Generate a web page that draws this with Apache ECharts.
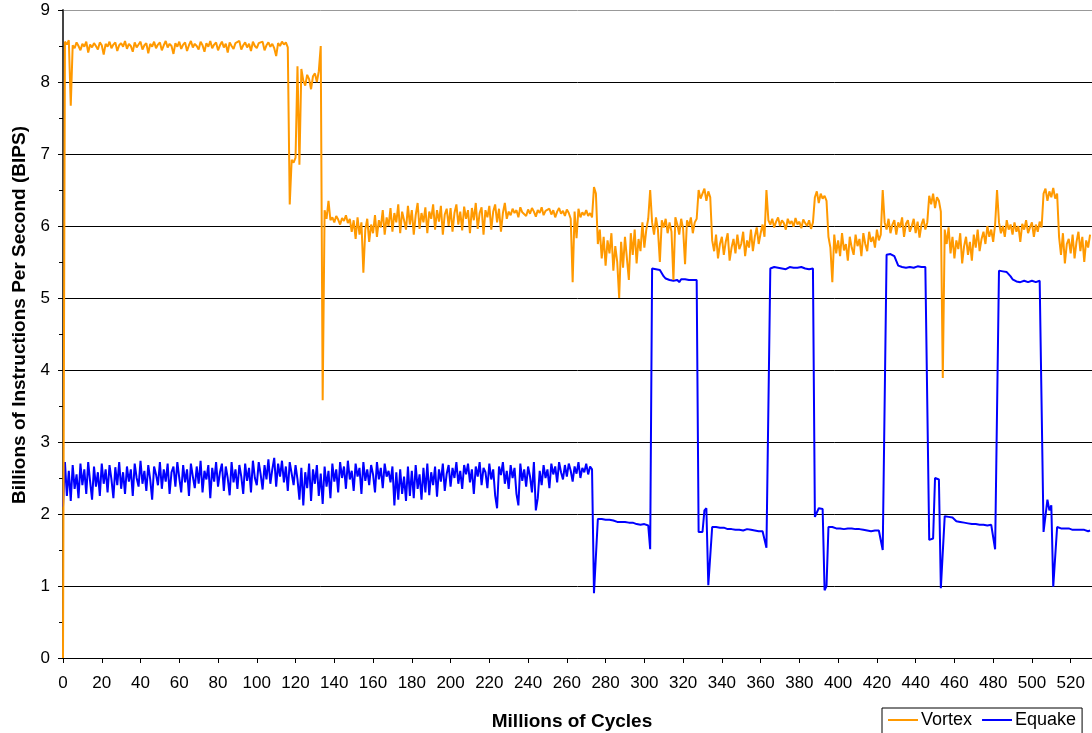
<!DOCTYPE html>
<html>
<head>
<meta charset="utf-8">
<script src="https://cdn.jsdelivr.net/npm/echarts@6/dist/echarts.min.js"></script>
<style>
  html, body { margin: 0; padding: 0; background: #fff; }
  #chart { width: 1092px; height: 733px; }
</style>
</head>
<body>
<div id="chart"></div>
<script>
// one sample per million cycles, starting at 0
const STEP = 1;

const seriesNames = ['Vortex', 'Equake'];

// Vortex BIPS
const vortex = [
  0, 8.56, 8.52, 8.58, 7.67, 8.51, 8.47, 8.55, 8.50, 8.44,
  8.53, 8.49, 8.56, 8.41, 8.52, 8.48, 8.54, 8.50, 8.45, 8.55,
  8.51, 8.38, 8.53, 8.49, 8.56, 8.47, 8.52, 8.55, 8.43, 8.51,
  8.54, 8.49, 8.57, 8.46, 8.53, 8.50, 8.42, 8.55, 8.48, 8.52,
  8.56, 8.45, 8.51, 8.54, 8.40, 8.53, 8.49, 8.56, 8.47, 8.52,
  8.55, 8.44, 8.51, 8.57, 8.48, 8.53, 8.50, 8.39, 8.54, 8.49,
  8.56, 8.46, 8.52, 8.55, 8.43, 8.51, 8.57, 8.48, 8.53, 8.50,
  8.45, 8.56, 8.51, 8.42, 8.54, 8.49, 8.57, 8.47, 8.52, 8.55,
  8.44, 8.51, 8.56, 8.48, 8.53, 8.41, 8.55, 8.50, 8.46, 8.54,
  8.52, 8.57, 8.45, 8.51, 8.55, 8.48, 8.53, 8.43, 8.56, 8.50,
  8.47, 8.54, 8.52, 8.56, 8.44, 8.51, 8.55, 8.49, 8.53, 8.47,
  8.36, 8.54, 8.50, 8.56, 8.52, 8.55, 8.48, 6.30, 6.92, 6.88,
  6.95, 8.22, 6.85, 8.18, 8.02, 7.95, 8.10, 8.04, 7.90, 8.08,
  8.12, 8.00, 8.15, 8.50, 3.58, 6.22, 6.10, 6.35, 6.08, 6.12,
  6.05, 6.14, 6.09, 6.02, 6.11, 6.07, 6.15, 6.04, 6.10, 5.92,
  6.08, 5.82, 6.12, 5.88, 6.05, 5.35, 5.95, 6.10, 5.78, 6.02,
  5.90, 6.15, 5.85, 6.08, 5.98, 6.22, 5.88, 6.12, 6.00, 6.25,
  5.92, 6.18, 6.05, 6.30, 5.90, 6.20, 6.08, 5.95, 6.28, 6.02,
  6.22, 5.88, 6.15, 6.32, 5.96, 6.18, 6.05, 6.26, 5.90, 6.20,
  6.10, 6.30, 5.95, 6.22, 6.06, 6.28, 5.88, 6.16, 6.24, 6.00,
  6.25, 5.92, 6.18, 6.30, 6.02, 6.20, 5.94, 6.27, 6.10, 6.22,
  5.90, 6.25, 6.08, 6.32, 5.96, 6.18, 6.26, 5.88, 6.22, 6.12,
  6.28, 5.95, 6.20, 6.30, 6.05, 6.24, 5.92, 6.18, 6.32, 6.10,
  6.20, 6.15, 6.24, 6.18, 6.22, 6.12, 6.26, 6.19, 6.21, 6.14,
  6.23, 6.17, 6.25, 6.20, 6.13, 6.22, 6.18, 6.26, 6.15, 6.21,
  6.19, 6.24, 6.16, 6.22, 6.12, 6.20, 6.25, 6.17, 6.21, 6.14,
  6.23, 6.18, 6.10, 5.22, 6.20, 5.83, 6.24, 6.12, 6.19, 6.15,
  6.22, 6.14, 6.18, 6.12, 6.54, 6.45, 5.75, 5.95, 5.55, 5.85,
  5.45, 5.80, 5.62, 5.90, 5.38, 5.72, 5.50, 5.00, 5.78, 5.42,
  5.85, 5.55, 5.25, 5.90, 5.60, 5.95, 5.48, 5.82, 5.65, 6.05,
  5.70, 5.95, 6.10, 6.50, 6.05, 5.88, 6.12, 5.95, 5.50, 6.08,
  5.98, 6.10, 5.90, 6.05, 5.92, 5.25, 6.12, 6.02, 5.88, 6.10,
  5.96, 5.47, 6.08, 6.00, 6.12, 5.90, 6.05, 6.10, 6.50, 6.38,
  6.45, 6.52, 6.35, 6.48, 6.40, 5.80, 5.65, 5.88, 5.55, 5.75,
  5.85, 5.60, 5.78, 5.90, 5.52, 5.70, 5.82, 5.62, 5.88, 5.68,
  5.75, 5.92, 5.58, 5.80, 5.70, 5.95, 5.65, 5.85, 5.98, 5.75,
  5.90, 6.02, 5.85, 6.50, 6.08, 6.02, 6.10, 5.98, 6.06, 6.12,
  6.00, 6.08, 6.04, 5.95, 6.10, 6.03, 6.07, 5.99, 6.11, 6.02,
  6.06, 5.97, 6.09, 6.04, 6.00, 6.08, 5.96, 6.05, 6.40, 6.48,
  6.32, 6.45, 6.38, 6.42, 6.35, 5.85, 5.70, 5.22, 5.88, 5.62,
  5.80, 5.58, 5.90, 5.66, 5.75, 5.52, 5.85, 5.70, 5.60, 5.88,
  5.72, 5.82, 5.58, 5.90, 5.75, 5.65, 5.92, 5.78, 5.85, 5.70,
  5.95, 5.80, 5.88, 6.50, 6.05, 5.95, 6.10, 5.90, 6.02, 6.08,
  5.88, 6.05, 5.98, 6.12, 5.85, 6.03, 6.08, 5.92, 6.00, 6.10,
  5.90, 6.06, 5.84, 6.02, 6.10, 5.95, 6.05, 6.42, 6.30, 6.45,
  6.25, 6.40, 6.35, 6.20, 3.89, 5.95, 5.75, 5.98, 5.62, 5.85,
  5.55, 5.80, 5.68, 5.90, 5.48, 5.72, 5.85, 5.60, 5.78, 5.52,
  5.88, 5.70, 5.95, 5.65, 5.82, 5.92, 5.75, 6.00, 5.85, 5.95,
  5.78, 6.02, 6.50, 6.05, 5.90, 6.00, 5.85, 6.08, 5.95, 6.02,
  5.88, 6.05, 5.92, 6.00, 5.78, 6.03, 5.95, 6.08, 5.90, 5.98,
  6.05, 5.85, 6.02, 5.92, 6.06, 5.98, 6.45, 6.52, 6.35, 6.48,
  6.40, 6.53, 6.38, 6.45, 5.85, 5.60, 5.90, 5.48, 5.75, 5.82,
  5.62, 5.88, 5.55, 5.78, 5.92, 5.65, 5.85, 5.50, 5.80, 5.70,
  5.88
];

// Equake BIPS
const equake = [
  2.10, 2.72, 2.25, 2.60, 2.18, 2.68, 2.35, 2.55, 2.22, 2.70,
  2.40, 2.62, 2.28, 2.72, 2.45, 2.20, 2.66, 2.38, 2.58, 2.25,
  2.70, 2.42, 2.62, 2.30, 2.68, 2.48, 2.22, 2.65, 2.40, 2.72,
  2.35, 2.58, 2.28, 2.66, 2.45, 2.62, 2.25, 2.70, 2.50, 2.38,
  2.74, 2.42, 2.60, 2.32, 2.68, 2.48, 2.20, 2.66, 2.55, 2.40,
  2.72, 2.35, 2.62, 2.45, 2.70, 2.28, 2.58, 2.66, 2.38, 2.72,
  2.50, 2.30, 2.68, 2.44, 2.62, 2.25, 2.70, 2.52, 2.36, 2.66,
  2.42, 2.74, 2.30, 2.60, 2.48, 2.68, 2.22, 2.64, 2.45, 2.72,
  2.38, 2.58, 2.70, 2.32, 2.66, 2.50, 2.26, 2.72, 2.44, 2.62,
  2.35, 2.68, 2.52, 2.28, 2.70, 2.46, 2.64, 2.30, 2.74, 2.50,
  2.40, 2.72, 2.55, 2.34, 2.68, 2.48, 2.76, 2.42, 2.62, 2.78,
  2.38, 2.70, 2.52, 2.74, 2.44, 2.66, 2.32, 2.72, 2.56, 2.40,
  2.68, 2.48, 2.20, 2.64, 2.12, 2.58, 2.36, 2.70, 2.18, 2.62,
  2.42, 2.68, 2.25, 2.56, 2.14, 2.66, 2.38, 2.60, 2.22, 2.70,
  2.45, 2.62, 2.30, 2.72, 2.50, 2.66, 2.35, 2.74, 2.48, 2.60,
  2.32, 2.70, 2.52, 2.64, 2.28, 2.72, 2.46, 2.62, 2.40, 2.68,
  2.55, 2.30, 2.72, 2.48, 2.64, 2.36, 2.70, 2.52, 2.60, 2.44,
  2.66, 2.12, 2.58, 2.20, 2.62, 2.28, 2.52, 2.18, 2.66, 2.25,
  2.60, 2.22, 2.68, 2.35, 2.55, 2.20, 2.64, 2.30, 2.70, 2.26,
  2.58, 2.40, 2.66, 2.24, 2.62, 2.45, 2.70, 2.32, 2.56, 2.68,
  2.38, 2.64, 2.50, 2.72, 2.42, 2.60, 2.35, 2.68, 2.55, 2.70,
  2.44, 2.62, 2.28, 2.66, 2.52, 2.72, 2.40, 2.64, 2.58, 2.36,
  2.70, 2.48, 2.62, 2.26, 2.08, 2.66, 2.54, 2.72, 2.42, 2.60,
  2.35, 2.68, 2.50, 2.64, 2.28, 2.12, 2.70, 2.46, 2.62, 2.38,
  2.66, 2.52, 2.30, 2.72, 2.05, 2.22, 2.60, 2.40, 2.68, 2.50,
  2.62, 2.36, 2.70, 2.55, 2.66, 2.44, 2.72, 2.58, 2.48, 2.68,
  2.52, 2.70, 2.60, 2.45, 2.66, 2.56, 2.72, 2.50, 2.64, 2.58,
  2.70, 2.55, 2.66, 2.62, 0.90, 0.88, 1.93, 1.92, 1.93, 1.91,
  1.92, 1.91, 1.92, 1.90, 1.91, 1.90, 1.89, 1.90, 1.89, 1.88,
  1.89, 1.87, 1.88, 1.86, 1.88, 1.87, 1.86, 1.87, 1.85, 1.87,
  1.86, 1.85, 1.84, 1.51, 5.41, 5.42, 5.40, 5.41, 5.39, 5.38,
  5.30, 5.27, 5.26, 5.25, 5.26, 5.24, 5.26, 5.25, 5.22, 5.26,
  5.25, 5.26, 5.24, 5.25, 5.26, 5.25, 5.26, 5.25, 1.75, 1.76,
  1.75, 2.05, 2.08, 1.01, 1.02, 1.82, 1.81, 1.82, 1.80, 1.81,
  1.80, 1.81, 1.80, 1.79, 1.80, 1.79, 1.80, 1.78, 1.79, 1.78,
  1.79, 1.77, 1.78, 1.79, 1.77, 1.78, 1.76, 1.77, 1.78, 1.76,
  1.77, 1.76, 1.75, 1.53, 1.52, 5.41, 5.42, 5.43, 5.41, 5.42,
  5.43, 5.41, 5.42, 5.40, 5.42, 5.43, 5.41, 5.42, 5.40, 5.42,
  5.41, 5.43, 5.42, 5.41, 5.42, 5.40, 5.42, 5.41, 1.96, 1.97,
  2.08, 2.10, 2.07, 0.94, 1.00, 1.82, 1.81, 1.82, 1.81, 1.80,
  1.81, 1.80, 1.81, 1.79, 1.80, 1.80, 1.79, 1.80, 1.78, 1.79,
  1.78, 1.79, 1.77, 1.78, 1.78, 1.77, 1.78, 1.76, 1.77, 1.77,
  1.76, 1.77, 1.76, 1.50, 1.51, 5.60, 5.59, 5.61, 5.60, 5.58,
  5.59, 5.45, 5.44, 5.43, 5.44, 5.42, 5.44, 5.43, 5.44, 5.42,
  5.43, 5.44, 5.42, 5.43, 5.44, 5.43, 5.42, 1.64, 1.65, 1.66,
  2.50, 2.52, 2.48, 0.97, 0.98, 1.97, 1.98, 1.96, 1.97, 1.95,
  1.94, 1.90, 1.91, 1.89, 1.90, 1.88, 1.90, 1.87, 1.88, 1.86,
  1.87, 1.86, 1.87, 1.85, 1.86, 1.85, 1.86, 1.84, 1.85, 1.85,
  1.84, 1.51, 1.50, 5.38, 5.39, 5.37, 5.38, 5.36, 5.35, 5.30,
  5.26, 5.24, 5.23, 5.24, 5.22, 5.23, 5.24, 5.23, 5.22, 5.23,
  5.24, 5.23, 5.22, 5.23, 5.24, 5.22, 1.75, 1.76, 2.20, 2.05,
  2.12, 0.99, 1.00, 1.82, 1.81, 1.80, 1.81, 1.80, 1.79, 1.80,
  1.79, 1.78, 1.79, 1.78, 1.77, 1.78, 1.77, 1.78, 1.77, 1.76,
  1.77
];

const FONT = 'Liberation Sans, Arial, sans-serif';

const toPoints = (vals) => vals.map((v, i) => [i * STEP, v]);

const chart = echarts.init(document.getElementById('chart'));

chart.setOption({
  animation: false,
  backgroundColor: '#fff',
  textStyle: { fontFamily: FONT },
  grid: { left: 63, right: 0, top: 10, bottom: 75, outerBoundsMode: 'none' },
  legend: {
    data: seriesNames,
    left: 882,
    top: 708,
    icon: 'rect',
    itemWidth: 30,
    itemHeight: 2,
    itemGap: 10,
    padding: [3, 6, 6, 6],
    borderColor: '#000',
    borderWidth: 1,
    textStyle: { fontFamily: FONT, fontSize: 18, color: '#000', padding: [0, 0, 0, -2] }
  },
  xAxis: {
    type: 'value',
    min: 0,
    max: 531,
    interval: 20,
    name: 'Millions of Cycles',
    nameLocation: 'middle',
    nameGap: 54,
    nameTextStyle: { fontFamily: FONT, fontSize: 19, fontWeight: 'bold', color: '#000', padding: [0, 11, 0, 0] },
    axisLine: { show: true, lineStyle: { color: '#000', width: 1 } },
    axisTick: { show: true, length: 5, lineStyle: { color: '#000' } },
    axisLabel: { fontFamily: FONT, fontSize: 17, color: '#000', margin: 17, showMaxLabel: false },
    splitLine: { show: false }
  },
  yAxis: {
    type: 'value',
    min: 0,
    max: 9,
    interval: 1,
    name: 'Billions of Instructions Per Second (BIPS)',
    nameLocation: 'middle',
    nameGap: 32,
    nameTextStyle: { fontFamily: FONT, fontSize: 19, fontWeight: 'bold', color: '#000', padding: [0, 0, 0, 38] },
    axisLine: { show: true, lineStyle: { color: '#444', width: 2 } },
    axisTick: { show: true, length: 5, lineStyle: { color: '#000' } },
    minorTick: { show: true, splitNumber: 2, length: 4, lineStyle: { color: '#000' } },
    axisLabel: { fontFamily: FONT, fontSize: 17, color: '#000', margin: 13 },
    splitLine: {
      show: true,
      lineStyle: {
        color: ['#000', '#000', '#000', '#000', '#000', '#000', '#000', '#000', '#000', '#999'],
        width: 1
      }
    }
  },
  series: [
    {
      name: 'Equake',
      type: 'line',
      data: toPoints(equake),
      showSymbol: false,
      symbol: 'none',
      color: '#0000ff',
      lineStyle: { color: '#0000ff', width: 2 },
      z: 2
    },
    {
      name: 'Vortex',
      type: 'line',
      data: toPoints(vortex),
      showSymbol: false,
      symbol: 'none',
      color: '#ff9900',
      lineStyle: { color: '#ff9900', width: 2 },
      z: 3
    }
  ]
});
</script>
</body>
</html>
